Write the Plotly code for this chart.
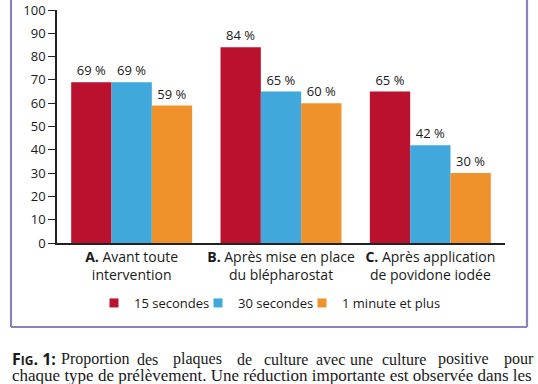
import plotly.graph_objects as go

categories = ["A", "B", "C"]
category_labels = ["<b>A.</b> Avant toute<br>intervention",
                   "<b>B.</b> Après mise en place<br>du blépharostat",
                   "<b>C.</b> Après application<br>de povidone iodée"]
series_names = ["15 secondes", "30 secondes", "1 minute et plus"]
values_15s = [69, 84, 65]
values_30s = [69, 65, 42]
values_1min = [59, 60, 30]
y_ticks = [0, 10, 20, 30, 40, 50, 60, 70, 80, 90, 100]

colors = ["#B9112E", "#40A8DB", "#F0922B"]
FONT = "Open Sans"

W, H = 538, 384
L, R, T, B = 57, 33, 10, 141
pw, ph = W - L - R, H - T - B

def px(x):
    return (x - L) / pw

def py(y):
    return (H - B - y) / ph

legend_ids = ["legend", "legend2", "legend3"]
legend_square_px = [114, 218, 322]

fig = go.Figure()
for name, vals, col, lg in zip(series_names, [values_15s, values_30s, values_1min], colors, legend_ids):
    fig.add_trace(go.Bar(
        x=categories, y=vals, name=name, marker_color=col, marker_line_width=0,
        text=[f"{v} %" for v in vals], textposition="outside",
        textfont=dict(family=FONT, size=13, color="#1a1a1a"),
        cliponaxis=False, showlegend=False,
    ))
    fig.add_trace(go.Scatter(
        x=[None], y=[None], mode="markers", name=name, legend=lg,
        marker=dict(symbol="square", size=9, color=col),
    ))

legend_common = dict(orientation="h", xref="container", yref="container",
                     xanchor="left", y=1 - 303 / H, yanchor="middle",
                     font=dict(family=FONT, size=13, color="#1a1a1a"),
                     itemwidth=30, bgcolor="rgba(0,0,0,0)", borderwidth=0)

fig.update_layout(
    width=W, height=H,
    margin=dict(l=L, r=R, t=T, b=B, pad=0, autoexpand=False),
    paper_bgcolor="white", plot_bgcolor="white",
    barmode="group", bargap=0.19, bargroupgap=0,
    font=dict(family=FONT, size=13, color="#1a1a1a"),
    showlegend=True,
    legend=dict(x=(legend_square_px[0] - 20) / W, **legend_common),
    legend2=dict(x=(legend_square_px[1] - 20) / W, **legend_common),
    legend3=dict(x=(legend_square_px[2] - 20) / W, **legend_common),
    xaxis=dict(tickmode="array", tickvals=categories, ticktext=category_labels,
               showline=True, linecolor="#222", linewidth=1.5, ticks="",
               tickfont=dict(family=FONT, size=14, color="#1a1a1a"),
               showgrid=False, zeroline=False, range=[-0.5, 2.5], automargin=False),
    yaxis=dict(range=[0, 100], tickvals=y_ticks, showline=True, linecolor="#222",
               linewidth=1.5, ticks="outside", ticklen=7, tickcolor="#222",
               tickwidth=1.2, showgrid=False, zeroline=False, automargin=False,
               tickfont=dict(family=FONT, size=13, color="#1a1a1a")),
)

# purple frame around chart (left, right, bottom edges; top lies above the picture)
FRAME = "#8D80BF"
for x0, x1, y0, y1 in [(11, 11, -10, 327), (527, 527, -10, 327), (11, 527, 327, 327)]:
    fig.add_shape(type="line", xref="paper", yref="paper",
                  x0=px(x0), x1=px(x1), y0=py(y0), y1=py(y1),
                  line=dict(color=FRAME, width=2.2), layer="above")

# caption, line 1 (justified: words centred where the reference places them)
SERIF = "Liberation Serif"
cap_words = [("Proportion", 63, 127), ("des", 137, 157), ("plaques", 168, 227),
             ("de", 237, 252), ("culture", 262, 310), ("avec", 317, 343),
             ("une", 350, 372), ("culture", 380, 427), ("positive", 435, 492),
             ("pour", 500, 537)]
fig.add_annotation(text="<b>F<span style='font-size:12px'>IG</span>. 1:</b>",
                   xref="paper", yref="paper", x=px(11), y=py(359),
                   xanchor="left", yanchor="middle", showarrow=False, borderpad=0,
                   font=dict(family=FONT, size=16, color="#1a1a1a"))
for w, a, b in cap_words:
    fig.add_annotation(text=w, xref="paper", yref="paper", x=px((a + b) / 2), y=py(359),
                       xanchor="center", yanchor="middle", showarrow=False, borderpad=0,
                       font=dict(family=SERIF, size=16, color="#1a1a1a"))
fig.add_annotation(text="chaque type de prélèvement. Une réduction importante est observée dans les",
                   xref="paper", yref="paper", x=px(11), y=py(375),
                   xanchor="left", yanchor="middle", showarrow=False, borderpad=0,
                   font=dict(family=SERIF, size=17, color="#1a1a1a"))

fig.write_html("out.html", config={"displayModeBar": False},
               post_script="document.body.style.margin='0';document.body.style.overflow='hidden';")
